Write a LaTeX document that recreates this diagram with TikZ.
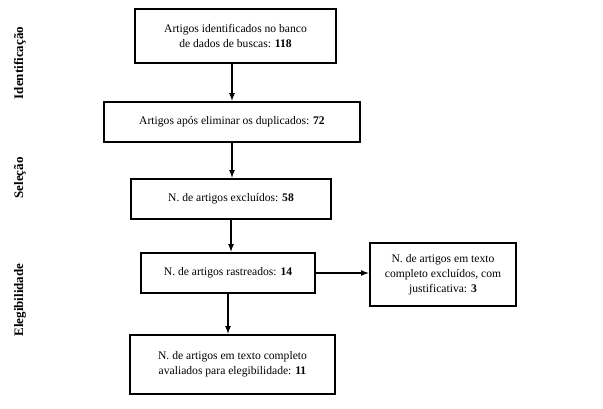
\documentclass[tikz,border=0pt]{standalone}
\usepackage{fontspec}
\setmainfont{Liberation Serif}
\usetikzlibrary{positioning}
\tikzset{
   every path/.style={>=latex},
   box/.style={draw,line width=1.6pt,align=center,inner sep=0pt,font=\fontsize{11.6}{15}\selectfont},
   flow/.style={->,line width=1.6pt,shorten >=0.5pt},
   stage/.style={rotate=90,font=\bfseries\fontsize{13}{15}\selectfont},
}

\begin{document}
\begin{tikzpicture}[x=1pt,y=-1pt]
      \useasboundingbox (0,0) rectangle (603,408);
      \node[stage] (sid) at (20,63) {Identificação};
      \node[stage] (ssel) at (20,178) {Seleção};
      \node[stage] (sele) at (20,300) {Elegibilidade};
      \node[box,minimum width=201pt,minimum height=54pt] (ident) at (235.5,36) {Artigos identificados no banco\\de dados de buscas: \textbf{118}};
      \node[box,minimum width=256pt,minimum height=40pt] (dup) at (232,122) {Artigos após eliminar os duplicados: \textbf{72}};
      \node[box,minimum width=200pt,minimum height=40pt] (excl) at (231,199) {N. de artigos excluídos: \textbf{58}};
      \node[box,minimum width=174pt,minimum height=40pt] (rast) at (228,273) {N. de artigos rastreados: \textbf{14}};
      \node[box,minimum width=146pt,minimum height=63pt] (just) at (443,274.5) {N. de artigos em texto\\completo excluídos, com\\justificativa: \textbf{3}};
      \node[box,minimum width=205pt,minimum height=59pt] (eleg) at (232.5,364.5) {N. de artigos em texto completo\\avaliados para elegibilidade: \textbf{11}};
      \draw[flow] (ident.south -| dup) -- (dup.north);
      \draw[flow] (dup.south) -- (dup.south |- excl.north);
      \draw[flow] (excl.south) -- (excl.south |- rast.north);
      \draw[flow] (rast.east) -- (just.west |- rast.east);
      \draw[flow] (rast.south) -- (rast.south |- eleg.north);
    \end{tikzpicture}
\end{document}
